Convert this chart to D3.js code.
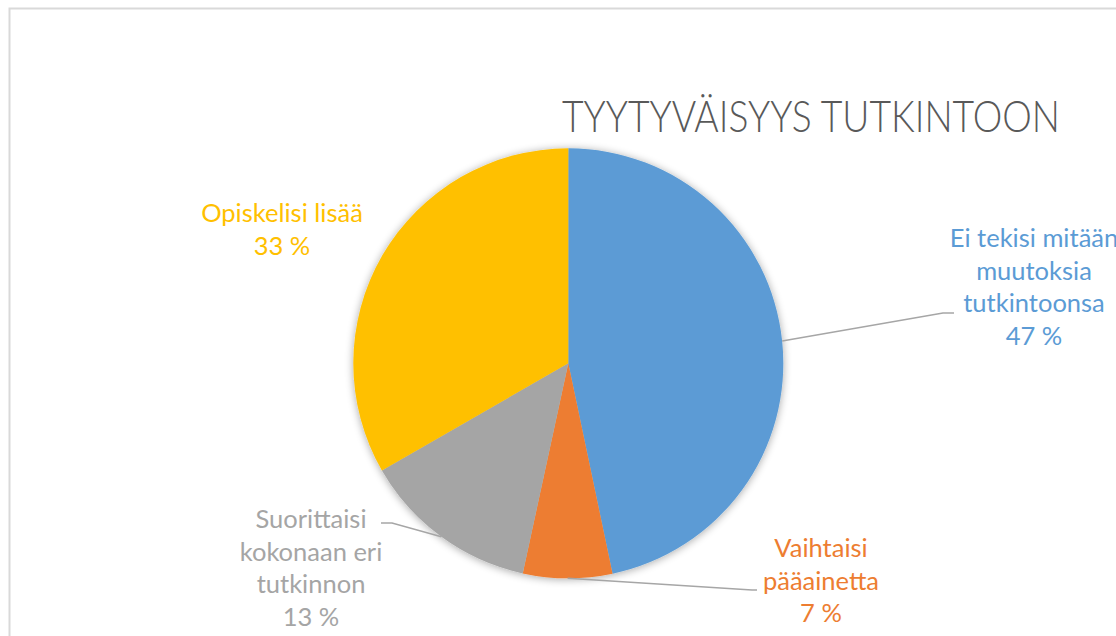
<!DOCTYPE html>
<html><head><meta charset="utf-8">
<script src="https://cdn.jsdelivr.net/npm/d3@7"></script>
<style>
html,body{margin:0;padding:0;background:#fff;overflow:hidden}
svg{display:block}
</style></head>
<body>
<script>
const title = "TYYTYVÄISYYS TUTKINTOON";
const categories = ["Ei tekisi mitään muutoksia tutkintoonsa", "Vaihtaisi pääainetta", "Suorittaisi kokonaan eri tutkinnon", "Opiskelisi lisää"];
const values = [46.7, 6.7, 13.3, 33.3];
const percentLabels = ["47 %", "7 %", "13 %", "33 %"];
const labelLines = [
  ["Ei tekisi mitään", "muutoksia", "tutkintoonsa"],
  ["Vaihtaisi", "pääainetta"],
  ["Suorittaisi", "kokonaan eri", "tutkinnon"],
  ["Opiskelisi lisää"]
];
const colors = ["#5b9bd5", "#ed7d31", "#a5a5a5", "#ffc000"];

const W = 1116, H = 636;
const cx = 568.3, cy = 363.3, R = 215;
const labelPos = [
  {x: 1034, y: 247, line: [[943, 313], [954, 313]]},
  {x: 821, y: 557, line: [[752, 590], [757, 590]]},
  {x: 311, y: 528, line: [[392, 523], [381, 523]]},
  {x: 282, y: 222, line: null}
];

const svg = d3.select("body").append("svg").attr("width", W).attr("height", H);
const defs = svg.append("defs");
const f = defs.append("filter").attr("id", "sh").attr("x", "-20%").attr("y", "-20%").attr("width", "140%").attr("height", "140%");
f.append("feGaussianBlur").attr("in", "SourceAlpha").attr("stdDeviation", 4).attr("result", "b");
f.append("feOffset").attr("in", "b").attr("dx", 0).attr("dy", 1).attr("result", "o");
f.append("feComponentTransfer").attr("in", "o").attr("result", "o2")
  .append("feFuncA").attr("type", "linear").attr("slope", 0.35);
const m = f.append("feMerge");
m.append("feMergeNode").attr("in", "o2");
m.append("feMergeNode").attr("in", "SourceGraphic");

svg.append("rect").attr("x", 9.5).attr("y", 8.5).attr("width", W + 20).attr("height", H + 20)
  .attr("fill", "none").attr("stroke", "#d9d9d9").attr("stroke-width", 2);

// title: scaled horizontally to the condensed width of the original
const titleG = svg.append("g");
const titleT = titleG.append("text").attr("x", 0).attr("y", 0)
  .attr("font-family", "Lato, 'Open Sans', sans-serif").attr("font-weight", 300)
  .attr("font-size", 44).attr("fill", "#595959")
  .text(title);
const natural = titleT.node().getComputedTextLength() || 498;
titleG.attr("transform", `translate(562,132) scale(${498 / natural},1)`);

const pie = d3.pie().sort(null).value(d => d)(values);
const arc = d3.arc().innerRadius(0).outerRadius(R);
const g = svg.append("g").attr("transform", `translate(${cx},${cy})`);
const slices = g.append("g").attr("filter", "url(#sh)");
slices.selectAll("path").data(pie).join("path")
  .attr("d", arc).attr("fill", (d, i) => colors[i]);

const midPt = d => {
  const a = (d.startAngle + d.endAngle) / 2;
  return [cx + R * Math.sin(a), cy - R * Math.cos(a)];
};
pie.forEach((d, i) => {
  const lp = labelPos[i];
  if (!lp.line) return;
  const pts = [midPt(d), ...lp.line];
  svg.append("path").attr("d", d3.line()(pts))
    .attr("fill", "none").attr("stroke", "#a6a6a6").attr("stroke-width", 1.5);
});

pie.forEach((d, i) => {
  const lp = labelPos[i];
  const lines = [...labelLines[i], percentLabels[i]];
  const t = svg.append("text").attr("text-anchor", "middle")
    .attr("font-family", "Lato, 'Open Sans', sans-serif")
    .attr("font-size", 25.5).attr("fill", colors[i]);
  lines.forEach((s, k) => {
    t.append("tspan").attr("x", lp.x).attr("y", lp.y + k * 32.7).text(s);
  });
});
</script>
</body></html>
